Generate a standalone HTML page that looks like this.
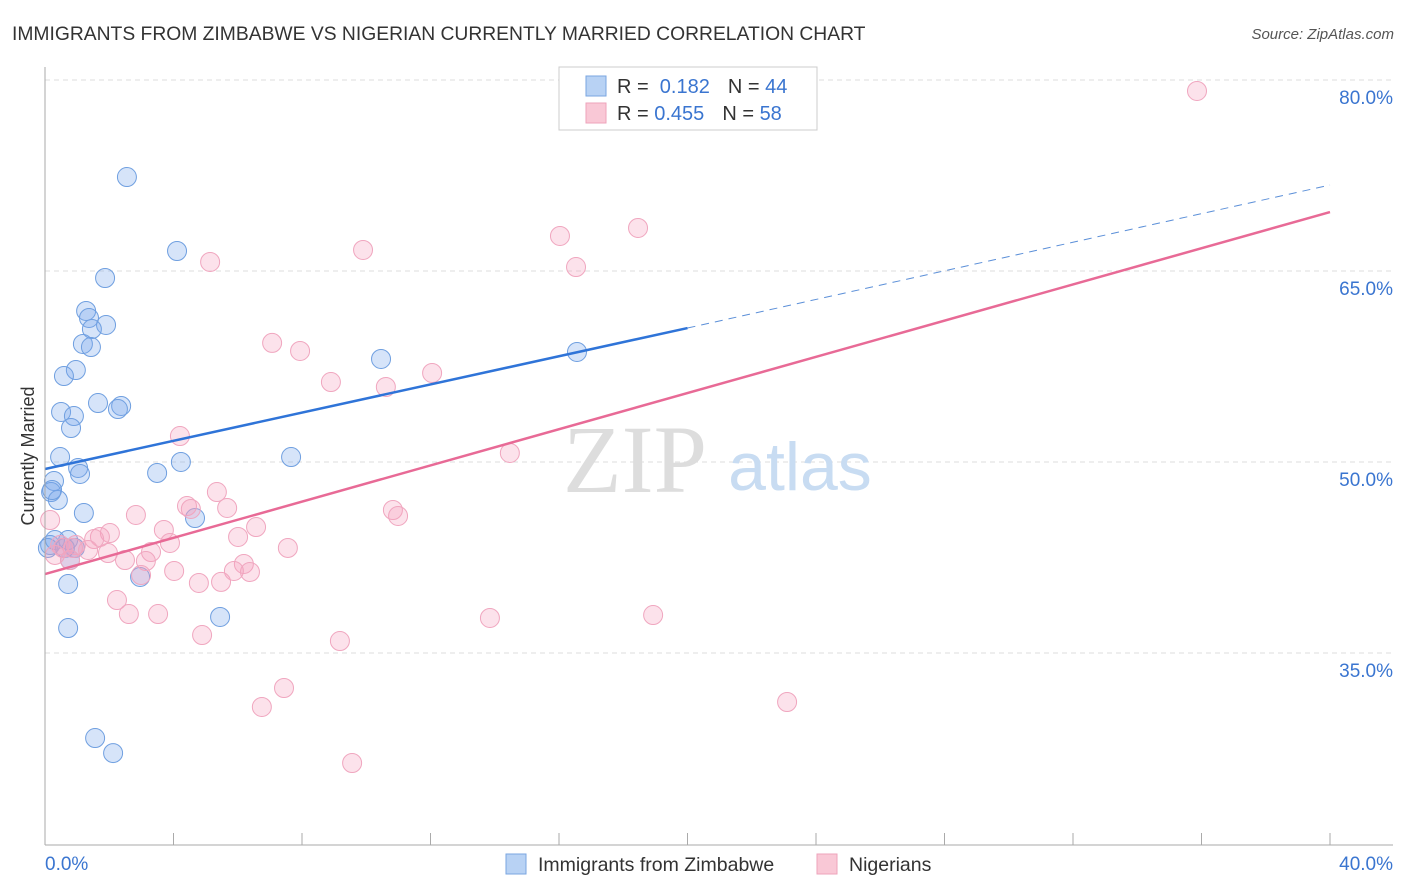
<!DOCTYPE html>
<html><head><meta charset="utf-8"><style>
body{margin:0;background:#fff;font-family:"Liberation Sans",sans-serif;}
svg{display:block}
</style></head><body>
<svg id="chart" width="1406" height="892" font-family="Liberation Sans, sans-serif">
<text x="12" y="40" font-size="19.3" fill="#333">IMMIGRANTS FROM ZIMBABWE VS NIGERIAN CURRENTLY MARRIED CORRELATION CHART</text>
<text x="1394" y="39" font-size="15" fill="#555" font-style="italic" text-anchor="end">Source: ZipAtlas.com</text>
<text x="34" y="456" font-size="18" fill="#333" text-anchor="middle" transform="rotate(-90 34 456)">Currently Married</text>
<g id="grid"></g>
<text x="635" y="492" font-size="96" fill="#ddd" font-family="Liberation Serif, serif" text-anchor="middle">ZIP</text>
<text x="800" y="490" font-size="68" fill="#c8dcf2" text-anchor="middle">atlas</text>
<g id="points"></g>
<g id="lines"></g>
<g id="axes"></g>
<g>
<rect x="559" y="67" width="258" height="63" fill="#fff" stroke="#ccc"/>
<rect x="586" y="76" width="20" height="20" fill="#b8d2f4" stroke="#7aa6e0"/>
<rect x="586" y="103" width="20" height="20" fill="#f9c8d6" stroke="#eea3bb"/>
<text x="617" y="93" font-size="20" fill="#333">R = <tspan fill="#3a75d0">&#160;0.182</tspan><tspan dx="18">N = </tspan><tspan fill="#3a75d0">44</tspan></text>
<text x="617" y="120" font-size="20" fill="#333">R = <tspan fill="#3a75d0">0.455</tspan><tspan dx="18">N = </tspan><tspan fill="#3a75d0">58</tspan></text>
</g>
<g>
<rect x="506" y="854" width="20" height="20" fill="#b8d2f4" stroke="#7aa6e0"/>
<text x="538" y="871" font-size="19.5" fill="#333">Immigrants from Zimbabwe</text>
<rect x="817" y="854" width="20" height="20" fill="#f9c8d6" stroke="#eea3bb"/>
<text x="849" y="871" font-size="19.5" fill="#333">Nigerians</text>
</g>
</svg>
<script>
const blueX=[2.55,4.11,1.87,1.28,1.37,1.90,1.46,1.18,1.43,10.46,16.56,0.96,0.59,1.65,2.37,2.27,0.50,0.90,0.81,0.47,4.23,7.66,3.49,1.03,1.09,0.28,0.19,0.40,1.21,4.67,0.72,0.93,0.78,2.96,0.72,5.45,0.72,1.56,2.12,0.16,0.22,0.09,0.31,0.62];
const blueY=[72.38,66.57,64.45,61.86,61.31,60.76,60.44,59.27,59.03,58.09,58.64,57.22,56.75,54.63,54.40,54.16,53.93,53.61,52.67,50.39,50.00,50.39,49.14,49.53,49.06,48.51,47.64,47.01,45.99,45.60,43.87,43.25,42.30,40.97,40.42,37.83,36.96,28.32,27.14,43.48,47.80,43.25,43.87,43.25];
const pinkX=[35.86,18.46,16.03,9.90,5.14,16.53,7.07,7.94,8.90,12.05,10.61,4.20,14.47,5.35,4.42,4.54,5.67,10.83,10.99,2.83,3.70,6.57,2.02,1.71,1.53,6.01,3.89,0.96,0.56,7.56,3.30,1.96,2.49,3.14,6.19,4.02,5.88,6.38,2.99,4.79,5.48,2.24,2.61,3.52,13.85,18.93,4.89,9.18,7.44,6.75,23.10,9.56,0.16,0.87,0.78,0.31,1.34,0.47];
const pinkY=[79.14,68.38,67.75,66.65,65.71,65.31,59.35,58.72,56.28,56.99,55.89,52.04,50.71,47.64,46.54,46.31,46.39,46.23,45.76,45.84,44.66,44.89,44.42,44.11,43.95,44.11,43.64,43.48,43.25,43.25,42.93,42.85,42.30,42.22,41.99,41.44,41.44,41.36,41.12,40.50,40.58,39.16,38.06,38.06,37.75,37.98,36.41,35.94,32.25,30.76,31.15,26.36,45.44,43.25,42.30,42.70,43.09,43.48];
const blueTrend=[49.45,60.52,71.75]; // y at x=0, 20, 40
const pinkTrend=[41.2,69.63]; // y at x=0, 40
const yTicks=[80,65,50,35];
const xTickLabels=["0.0%","40.0%"];
const NS="http://www.w3.org/2000/svg";
const X=v=>45+v*32.125, Y=v=>80+(80-v)*12.733;
function mk(tag,attrs,parent){const e=document.createElementNS(NS,tag);for(const k in attrs)e.setAttribute(k,attrs[k]);parent.appendChild(e);return e;}
const grid=document.getElementById('grid'),axes=document.getElementById('axes'),pts=document.getElementById('points'),lines=document.getElementById('lines');
yTicks.forEach(t=>{
 const l=mk('line',{x1:45,x2:1393,y1:Y(t),y2:Y(t),stroke:'#ddd','stroke-dasharray':'5,4'},grid);
 
 
 const tx=mk('text',{x:1393,y:Y(t)+24,'font-size':19,fill:'#3a75d0','text-anchor':'end'},grid);
 tx.textContent=t.toFixed(1)+'%';
 
 
});
mk('line',{x1:45,x2:45,y1:67,y2:845,stroke:'#aaa'},axes);
mk('line',{x1:45,x2:1393,y1:845,y2:845,stroke:'#aaa'},axes);
for(let i=0;i<=10;i++){mk('line',{x1:X(i*4),x2:X(i*4),y1:833,y2:845,stroke:'#aaa'},axes);}
const xl0=mk('text',{x:45,y:870,'font-size':19,fill:'#3a75d0'},axes);xl0.textContent=xTickLabels[0];


const xl1=mk('text',{x:1393,y:870,'font-size':19,fill:'#3a75d0','text-anchor':'end'},axes);xl1.textContent=xTickLabels[1];


blueX.forEach((v,i)=>{const c=mk('circle',{cx:X(v),cy:Y(blueY[i]),r:9.5,fill:'rgba(120,165,235,0.3)',stroke:'#6f9fe0','stroke-width':1},pts);
 
 });
pinkX.forEach((v,i)=>{const c=mk('circle',{cx:X(v),cy:Y(pinkY[i]),r:9.5,fill:'rgba(245,160,190,0.3)',stroke:'#f0a6bf','stroke-width':1},pts);
 
 });
const b1=mk('line',{x1:X(0),y1:Y(blueTrend[0]),x2:X(20),y2:Y(blueTrend[1]),stroke:'#2f74d8','stroke-width':2.5},lines);


const b2=mk('line',{x1:X(20),y1:Y(blueTrend[1]),x2:X(40),y2:Y(blueTrend[2]),stroke:'#5b8fd8','stroke-width':1,'stroke-dasharray':'8,6'},lines);


const p1=mk('line',{x1:X(0),y1:Y(pinkTrend[0]),x2:X(40),y2:Y(pinkTrend[1]),stroke:'#e86a96','stroke-width':2.5},lines);


</script>
</body></html>
